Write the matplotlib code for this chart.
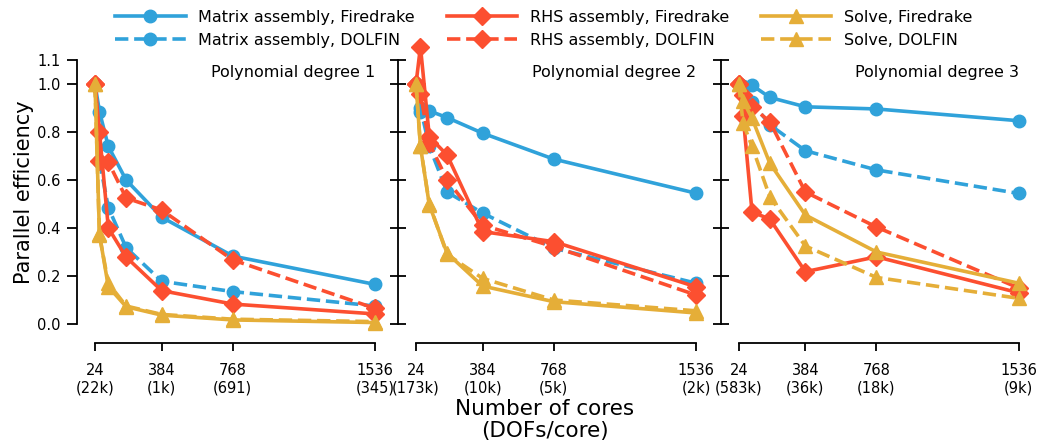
import matplotlib
matplotlib.use("Agg")
import matplotlib.pyplot as plt

# cores used in every run
cores = [24, 48, 96, 192, 384, 768, 1536]
tick_cores = [24, 384, 768, 1536]
dofs_labels = [
    ["(22k)", "(1k)", "(691)", "(345)"],
    ["(173k)", "(10k)", "(5k)", "(2k)"],
    ["(583k)", "(36k)", "(18k)", "(9k)"],
]
titles = ["Polynomial degree 1", "Polynomial degree 2", "Polynomial degree 3"]

# parallel efficiency, one list per degree
matrix_fd = [
    [1.0, 0.885, 0.74, 0.60, 0.445, 0.283, 0.165],
    [1.0, 0.885, 0.888, 0.86, 0.795, 0.687, 0.545],
    [1.0, 0.99, 0.995, 0.944, 0.905, 0.896, 0.847],
]
matrix_dolfin = [
    [1.0, 0.68, 0.485, 0.318, 0.178, 0.135, 0.075],
    [1.0, 0.90, 0.74, 0.55, 0.462, 0.316, 0.17],
    [1.0, 0.96, 0.925, 0.83, 0.722, 0.642, 0.544],
]
rhs_fd = [
    [1.0, 0.80, 0.40, 0.279, 0.139, 0.083, 0.042],
    [1.0, 1.155, 0.78, 0.704, 0.385, 0.343, 0.155],
    [1.0, 0.867, 0.467, 0.437, 0.218, 0.28, 0.13],
]
rhs_dolfin = [
    [1.0, 0.68, 0.675, 0.525, 0.475, 0.267, 0.065],
    [1.0, 0.96, 0.754, 0.60, 0.412, 0.322, 0.121],
    [1.0, 0.955, 0.905, 0.843, 0.55, 0.404, 0.15],
]
solve_fd = [
    [1.0, 0.374, 0.156, 0.072, 0.037, 0.017, 0.006],
    [1.0, 0.74, 0.496, 0.295, 0.158, 0.093, 0.046],
    [1.0, 0.93, 0.857, 0.67, 0.454, 0.30, 0.17],
]
solve_dolfin = [
    [1.0, 0.37, 0.17, 0.075, 0.04, 0.02, 0.01],
    [1.0, 0.74, 0.50, 0.29, 0.19, 0.10, 0.055],
    [1.0, 0.836, 0.74, 0.53, 0.325, 0.194, 0.107],
]

blue, red, yellow = '#30a2da', '#fc4f30', '#e5ae38'
series = [
    ("Matrix assembly, Firedrake", matrix_fd, blue, 'o', '-'),
    ("Matrix assembly, DOLFIN", matrix_dolfin, blue, 'o', '--'),
    ("RHS assembly, Firedrake", rhs_fd, red, 'D', '-'),
    ("RHS assembly, DOLFIN", rhs_dolfin, red, 'D', '--'),
    ("Solve, Firedrake", solve_fd, yellow, '^', '-'),
    ("Solve, DOLFIN", solve_dolfin, yellow, '^', '--'),
]

W, H = 1042, 447
fig = plt.figure(figsize=(W / 100, H / 100), dpi=100)

px_per_core = 280 / 1512.0
lefts = [77, 398, 720.7]
ax_w = 305
y0, y1 = 324, 60  # pixel rows of 0.0 and 1.1

axes = []
for i, left in enumerate(lefts):
    ax = fig.add_axes([left / W, (H - y0) / H, ax_w / W, (y0 - y1) / H])
    axes.append(ax)
    xmin = 24 - 18 / px_per_core
    xmax = xmin + ax_w / px_per_core
    for label, data, color, marker, ls in series:
        ax.plot(cores, data[i], linestyle=ls, color=color, marker=marker,
                markersize=9 if marker != '^' else 9.5, linewidth=2.6,
                label=label, clip_on=False, zorder=3)
    ax.set_xlim(xmin, xmax)
    ax.set_ylim(0, 1.1)

    for s in ['top', 'right']:
        ax.spines[s].set_visible(False)
    ax.spines['bottom'].set_position(('outward', 14))
    ax.spines['bottom'].set_bounds(24, 1536)
    ax.spines['left'].set_bounds(0, 1.1)
    ax.spines['bottom'].set_linewidth(1.3)
    ax.spines['left'].set_linewidth(1.3)

    ax.set_xticks(tick_cores)
    ax.set_xticklabels([f"{c}\n{d}" for c, d in zip(tick_cores, dofs_labels[i])],
                       fontsize=10.5)
    ax.set_yticks([0.0, 0.2, 0.4, 0.6, 0.8, 1.0, 1.1])
    ax.tick_params(axis='x', direction='out', length=6, width=1.3, pad=8)
    if i == 0:
        ax.set_yticklabels(["0.0", "0.2", "0.4", "0.6", "0.8", "1.0", "1.1"], fontsize=10.5)
        ax.tick_params(axis='y', direction='out', length=7, width=1.3, pad=5)
        ax.set_ylabel("Parallel efficiency", fontsize=15, labelpad=2)
    else:
        ax.set_yticklabels([])
        ax.tick_params(axis='y', direction='inout', length=12, width=1.3)
    ax.patch.set_visible(False)
    ax.text(1536, 1.05, titles[i], ha='right', va='center', fontsize=11.5)

fig.text(545 / W, 1 - 420 / H, "Number of cores\n(DOFs/core)", ha='center', va='center',
         fontsize=15.5, linespacing=1.15)

handles, labels = axes[0].get_legend_handles_labels()
fig.legend(handles, labels, loc='upper center', bbox_to_anchor=(0.522, 1.01), ncol=3,
           frameon=False, fontsize=11.5, handlelength=4.4, columnspacing=2.0,
           handletextpad=0.8, labelspacing=0.5)

fig.savefig("out.png", dpi=100)
